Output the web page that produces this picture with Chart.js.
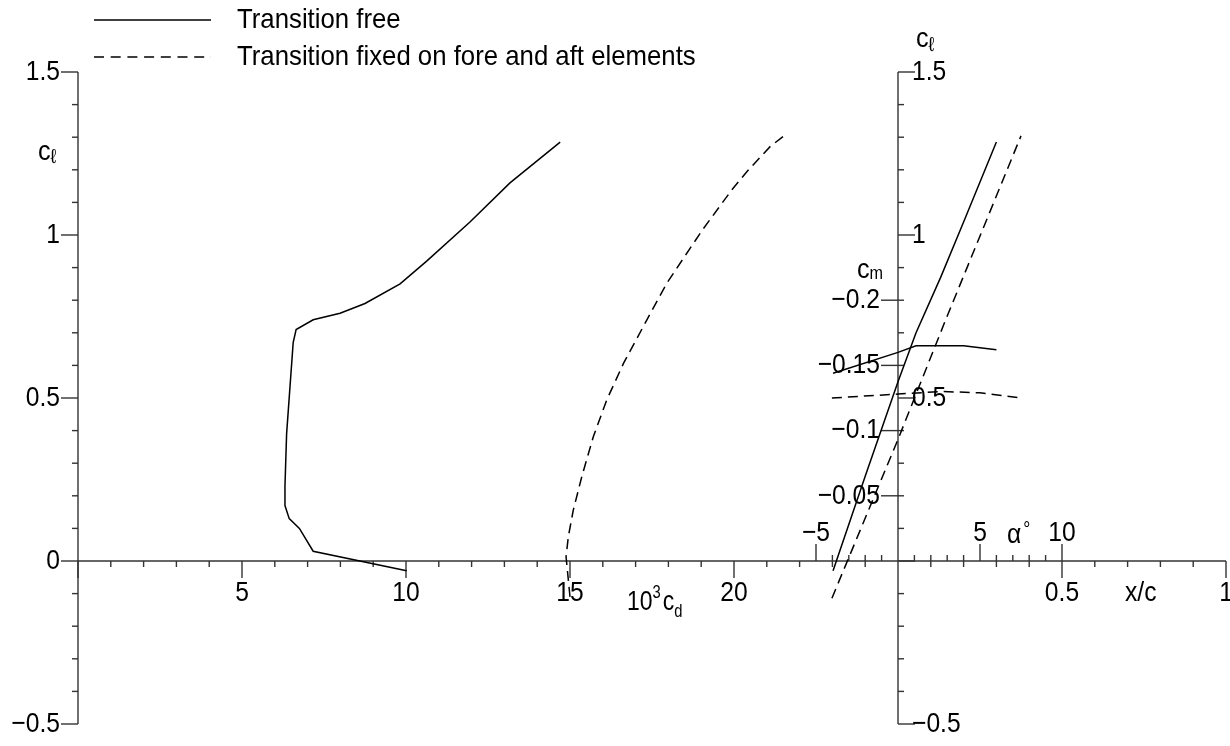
<!DOCTYPE html>
<html>
<head>
<meta charset="utf-8">
<title>Section characteristics</title>
<script src="https://cdn.jsdelivr.net/npm/chart.js@4.4.1/dist/chart.umd.min.js"></script>
<style>
  html, body { margin: 0; padding: 0; background: #fff; }
  canvas { display: block; }
</style>
</head>
<body>
<canvas id="chart" width="1230" height="746"></canvas>
<script>
// drag polar, 10^3 cd against cl
const cdFree  = [10.02, 7.17, 6.75, 6.44, 6.31, 6.31, 6.36, 6.56, 6.65, 7.17, 7.99, 8.75, 9.82, 10.63, 11.95, 13.17, 14.70];
const clFree  = [-0.03, 0.03, 0.10, 0.13, 0.17, 0.23, 0.39, 0.67, 0.71, 0.74, 0.76, 0.79, 0.85, 0.92, 1.04, 1.16, 1.285];
const cdFixed = [15.00, 14.88, 14.95, 15.10, 15.36, 15.71, 16.12, 16.63, 17.34, 17.95, 18.66, 19.07, 19.93, 20.39, 21.10, 21.52];
const clFixed = [-0.11, 0.013, 0.075, 0.156, 0.259, 0.381, 0.494, 0.606, 0.739, 0.852, 0.959, 1.02, 1.138, 1.194, 1.271, 1.304];

// lift curves, cl against alpha (deg)
const alphaFree    = [-3.96, -2.0, 0.0, 1.1, 2.6, 4.0, 6.0];
const clAlphaFree  = [-0.03, 0.26, 0.55, 0.70, 0.87, 1.04, 1.285];
const alphaFixed   = [-4.03, 0.0, 2.9, 7.5];
const clAlphaFixed = [-0.114, 0.373, 0.739, 1.304];

// pitching moment, cm against alpha
const alphaCmFree  = [-3.96, 0.0, 1.1, 4.0, 6.0];
const cmFree       = [-0.144, -0.160, -0.165, -0.165, -0.162];
const alphaCmFixed = [-4.03, 0.0, 2.6, 5.0, 7.5];
const cmFixed      = [-0.125, -0.128, -0.130, -0.129, -0.125];

// tick labels
const clTicks      = [-0.5, 0, 0.5, 1, 1.5];
const clTicksRight = [-0.5, 0.5, 1, 1.5];
const cdTicks      = [5, 10, 15, 20];
const alphaTicks   = [-5, 5, 10];
const cmTicks      = [-0.05, -0.1, -0.15, -0.2];
const xcTicks      = [0.5, 1];

const seriesNames = ['Transition free', 'Transition fixed on fore and aft elements'];

const FONT = '"Liberation Sans", Arial, sans-serif';
const INK = '#000';
const AXIS = '#333';
const DASH = [10, 6];

function pts(xs, ys) { return xs.map((x, i) => ({ x, y: ys[i] })); }

function fmt(v) { return (v < 0 ? '\u2212' : '') + String(Math.abs(v)); }

function text(ctx, str, x, y, align, size, sx, base) {
  ctx.save();
  ctx.font = size + 'px ' + FONT;
  ctx.textAlign = align;
  ctx.textBaseline = base || 'middle';
  ctx.translate(x, y);
  ctx.scale(sx, 1);
  ctx.fillText(str, 0, 0);
  ctx.restore();
}

// run of pieces sharing a baseline, each with its own size and shift
function rich(ctx, parts, x, y, sx) {
  let cx = x;
  parts.forEach(p => {
    ctx.save();
    ctx.font = p.size + 'px ' + FONT;
    ctx.textAlign = 'left';
    ctx.textBaseline = 'alphabetic';
    ctx.translate(cx, y + (p.dy || 0));
    ctx.scale(sx, 1);
    ctx.fillText(p.t, 0, 0);
    cx += ctx.measureText(p.t).width * sx + (p.gap || 0);
    ctx.restore();
  });
}

function line(ctx, x1, y1, x2, y2) {
  ctx.beginPath();
  ctx.moveTo(x1, y1);
  ctx.lineTo(x2, y2);
  ctx.stroke();
}

const axesPlugin = {
  id: 'axes',
  beforeDatasetsDraw(chart) {
    const { ctx, scales } = chart;
    const X = scales.x, Y = scales.y, XA = scales.xa, XC = scales.xc, YM = scales.ym;
    const x0 = X.getPixelForValue(0);
    const xr = X.getPixelForValue(25);
    const y0 = Y.getPixelForValue(0);
    const yTop = Y.getPixelForValue(1.5), yBot = Y.getPixelForValue(-0.5);
    const minor = 6, major = 17;
    const NUM = 28, NSX = 0.88;

    ctx.save();
    ctx.strokeStyle = AXIS;
    ctx.fillStyle = INK;
    ctx.lineWidth = 1.4;
    ctx.lineCap = 'butt';

    // left cl axis
    line(ctx, x0, yTop, x0, yBot);
    for (let k = -5; k <= 15; k++) {
      const y = Y.getPixelForValue(k / 10);
      line(ctx, x0, y, x0 - (k % 5 === 0 ? major : minor), y);
    }
    clTicks.forEach(v => text(ctx, fmt(v), x0 - 18, Y.getPixelForValue(v), 'right', NUM, NSX));
    rich(ctx, [{ t: 'c', size: 28 }, { t: '\u2113', size: 20, dy: 3 }], 38, 160, 0.9);

    // horizontal axis along cl = 0
    line(ctx, x0, y0, X.getPixelForValue(35), y0);
    for (let k = 0; k < 25; k++) {
      const x = X.getPixelForValue(k);
      line(ctx, x, y0, x, y0 + (k % 5 === 0 ? major : minor));
    }
    cdTicks.forEach(v => text(ctx, String(v), X.getPixelForValue(v), y0 + 32, 'center', NUM, NSX));
    rich(ctx, [{ t: '10', size: 28 }, { t: '3', size: 18, dy: -12, gap: 2 }, { t: 'c', size: 28 }, { t: 'd', size: 18, dy: 7 }], 627, 610, 0.82);

    // angle of attack ticks above the axis
    for (let a = -5; a <= 10; a++) {
      if (a === 0) continue;
      const x = XA.getPixelForValue(a);
      line(ctx, x, y0, x, y0 - (a % 5 === 0 ? major : minor));
    }
    alphaTicks.forEach(v => text(ctx, fmt(v), XA.getPixelForValue(v), y0 - 28, 'center', NUM, NSX));
    rich(ctx, [{ t: '\u03b1', size: 28, gap: 2 }, { t: '\u00b0', size: 20, dy: -7 }], 1007, 543, NSX);

    // chordwise station ticks below the axis
    for (let k = 1; k <= 10; k++) {
      const x = XC.getPixelForValue(k / 10);
      line(ctx, x, y0, x, y0 + (k % 5 === 0 ? major : minor));
    }
    xcTicks.forEach(v => text(ctx, String(v), XC.getPixelForValue(v), y0 + 32, 'center', NUM, NSX));
    text(ctx, 'x/c', 1125, y0 + 32, 'left', NUM, NSX);

    // right cl axis with cm scale on its left side
    line(ctx, xr, yTop, xr, yBot);
    for (let k = -5; k <= 15; k++) {
      const y = Y.getPixelForValue(k / 10);
      line(ctx, xr, y, xr + (k % 5 === 0 ? major : minor), y);
    }
    clTicksRight.forEach(v => text(ctx, fmt(v), xr + 14, Y.getPixelForValue(v), 'left', NUM, NSX));
    rich(ctx, [{ t: 'c', size: 28 }, { t: '\u2113', size: 20, dy: 4 }], 916, 47, 0.9);

    cmTicks.forEach(v => {
      const y = YM.getPixelForValue(v);
      line(ctx, xr, y, xr - major, y);
      text(ctx, fmt(v), xr - 18, y, 'right', NUM, NSX);
    });
    rich(ctx, [{ t: 'c', size: 28 }, { t: 'm', size: 18, dy: 1 }], 857, 278, 0.9);

    // key
    const keys = [{ y: 20, dash: [] }, { y: 57, dash: [10, 6.7] }];
    keys.forEach((k, i) => {
      ctx.save();
      ctx.strokeStyle = INK;
      ctx.lineWidth = 1.4;
      ctx.setLineDash(k.dash);
      line(ctx, 94, k.y, 211, k.y);
      ctx.restore();
      text(ctx, chart.data.datasets[i].label, 237, k.y, 'left', 28, 0.92);
    });

    ctx.restore();
  }
};

const solid = { borderColor: INK, borderWidth: 1.5, showLine: true, pointRadius: 0, fill: false, tension: 0 };
const dashed = Object.assign({}, solid, { borderDash: DASH });

new Chart(document.getElementById('chart'), {
  type: 'scatter',
  data: {
    datasets: [
      Object.assign({ label: seriesNames[0], data: pts(cdFree, clFree), xAxisID: 'x', yAxisID: 'y' }, solid),
      Object.assign({ label: seriesNames[1], data: pts(cdFixed, clFixed), xAxisID: 'x', yAxisID: 'y' }, dashed),
      Object.assign({ label: 'cl free', data: pts(alphaFree, clAlphaFree), xAxisID: 'xa', yAxisID: 'y' }, solid),
      Object.assign({ label: 'cl fixed', data: pts(alphaFixed, clAlphaFixed), xAxisID: 'xa', yAxisID: 'y' }, dashed),
      Object.assign({ label: 'cm free', data: pts(alphaCmFree, cmFree), xAxisID: 'xa', yAxisID: 'ym' }, solid),
      Object.assign({ label: 'cm fixed', data: pts(alphaCmFixed, cmFixed), xAxisID: 'xa', yAxisID: 'ym' }, dashed)
    ]
  },
  options: {
    responsive: false,
    animation: false,
    devicePixelRatio: 1,
    layout: { padding: { left: 78, right: 4, top: 72, bottom: 22 } },
    plugins: { legend: { display: false }, tooltip: { enabled: false } },
    scales: {
      x:  { type: 'linear', position: 'bottom', min: 0, max: 35, display: false },
      xa: { type: 'linear', position: 'bottom', min: -50, max: 20, display: false },
      xc: { type: 'linear', position: 'bottom', min: -2.5, max: 1, display: false },
      y:  { type: 'linear', position: 'left', min: -0.5, max: 1.5, display: false },
      ym: { type: 'linear', position: 'right', min: -0.375, max: 0.125, reverse: true, display: false }
    }
  },
  plugins: [axesPlugin]
});
</script>
</body>
</html>
